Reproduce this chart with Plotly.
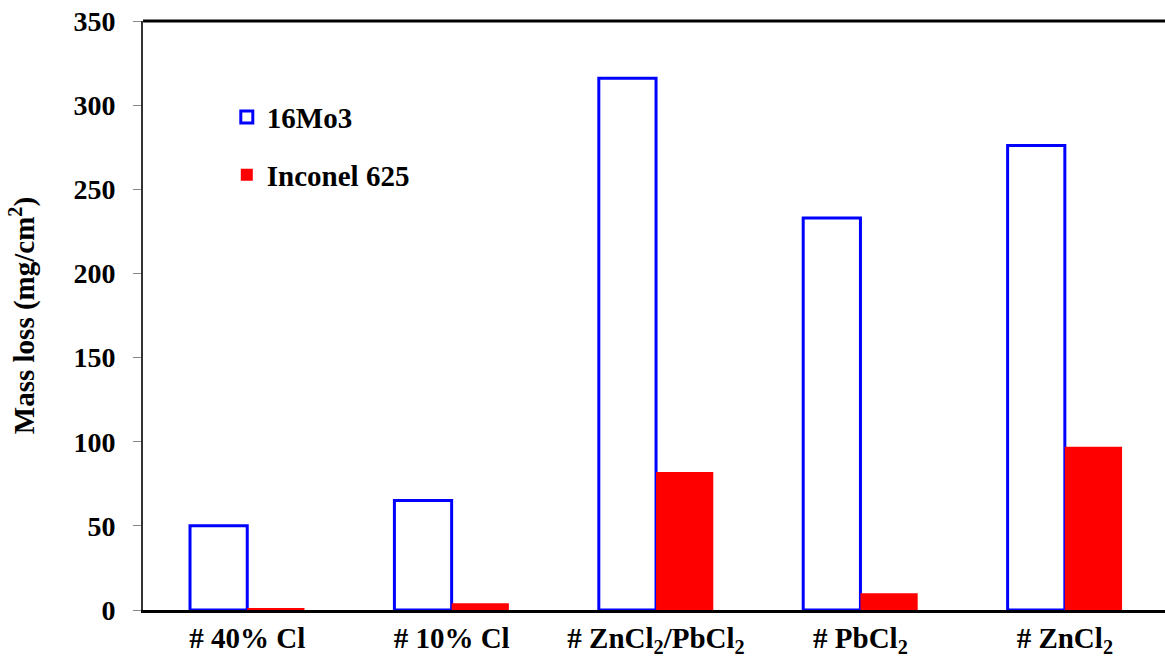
import plotly.graph_objects as go

categories = ["# 40% Cl", "# 10% Cl", "# ZnCl<sub>2</sub>/PbCl<sub>2</sub>", "# PbCl<sub>2</sub>", "# ZnCl<sub>2</sub>"]
mo3_values = [50, 65, 316, 233, 276]
inconel_values = [1, 4, 82, 10, 97]
y_ticks = [0, 50, 100, 150, 200, 250, 300, 350]

font_family = "Liberation Serif"

fig = go.Figure()
fig.add_trace(go.Bar(
    x=categories, y=mo3_values, name="<b>16Mo3</b>",
    marker=dict(color="white", line=dict(color="#0000FF", width=3)),
    legendgroup="a",
))
fig.add_trace(go.Bar(
    x=categories, y=inconel_values, name="<b>Inconel 625</b>",
    marker=dict(color="#FF0000", line=dict(color="#FF0000", width=0)),
    legendgroup="b",
))

fig.update_layout(
    width=1165, height=666,
    margin=dict(l=143, r=0, t=21, b=56, autoexpand=False),
    plot_bgcolor="white", paper_bgcolor="white",
    barmode="group", bargap=0.44, bargroupgap=0,
    font=dict(family=font_family, size=29, color="black"),
    showlegend=True,
    legend=dict(
        x=0.082, y=0.88, xanchor="left", yanchor="top",
        bgcolor="rgba(0,0,0,0)",
        font=dict(family=font_family, size=29, color="black"),
        traceorder="grouped", tracegroupgap=17,
        itemwidth=30,
    ),
    xaxis=dict(
        showline=True, linecolor="black", linewidth=2.5,
        ticks="", showgrid=False, automargin=False,
        ticklabeloverflow="allow",
        tickfont=dict(family=font_family, size=29, color="black", weight="bold"),
        range=[-0.51, 4.49],
    ),
    yaxis=dict(
        range=[0, 350], tickvals=y_ticks, automargin=False,
        showline=True, linecolor="#333333", linewidth=2,
        ticks="outside", ticklen=8, tickcolor="#888888", tickwidth=1,
        ticklabelstandoff=12, ticklabeloverflow="allow",
        showgrid=False, zeroline=False,
        tickfont=dict(family=font_family, size=28, color="black", weight="bold"),
        title=dict(text="<b>Mass loss (mg/cm<sup>2</sup>)</b>",
                   font=dict(family=font_family, size=29, color="black"),
                   standoff=30),
    ),
    shapes=[dict(type="line", xref="paper", yref="paper", x0=0, x1=1.01, y0=1, y1=1,
                 line=dict(color="black", width=3))],
)

fig.write_html("out.html",
               config={"displayModeBar": False},
               post_script="document.body.style.margin='0';document.body.style.overflow='hidden';")
